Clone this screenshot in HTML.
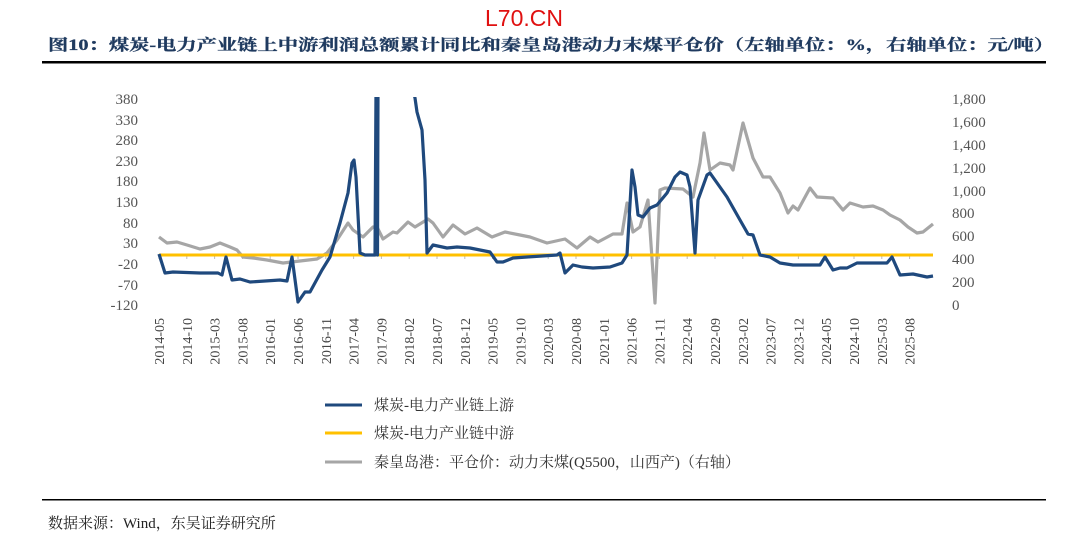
<!DOCTYPE html>
<html><head><meta charset="utf-8"><style>
body{margin:0;background:#fff;width:1077px;height:546px;overflow:hidden;font-family:"Liberation Serif","Noto Serif CJK SC",serif;}
</style></head><body>
<svg width="1077" height="546" xmlns="http://www.w3.org/2000/svg">
<defs><clipPath id="c"><rect x="140" y="97" width="820" height="215"/></clipPath></defs>
<text x="524" y="26" text-anchor="middle" font-family="Liberation Sans, sans-serif" font-size="23" fill="#e01010">L70.CN</text>
<text x="48" y="50" font-size="15.5" font-weight="bold" fill="#1f3a5f" stroke="#1f3a5f" stroke-width="0.3" font-family="Liberation Serif, Noto Serif CJK SC, serif" textLength="1006" lengthAdjust="spacingAndGlyphs">图10：煤炭-电力产业链上中游利润总额累计同比和秦皇岛港动力末煤平仓价（左轴单位：%，右轴单位：元/吨）</text>
<rect x="42" y="61" width="1004" height="2.5" fill="#000"/>
<g font-size="15" fill="#555" text-anchor="end">
<text x="138" y="104">380</text><text x="138" y="125">330</text><text x="138" y="145">280</text><text x="138" y="166">230</text><text x="138" y="186">180</text><text x="138" y="207">130</text><text x="138" y="228">80</text><text x="138" y="248">30</text><text x="138" y="269">-20</text><text x="138" y="290">-70</text><text x="138" y="310">-120</text>
</g>
<g font-size="15" fill="#555">
<text x="952" y="104">1,800</text><text x="952" y="127">1,600</text><text x="952" y="150">1,400</text><text x="952" y="173">1,200</text><text x="952" y="196">1,000</text><text x="952" y="218">800</text><text x="952" y="241">600</text><text x="952" y="264">400</text><text x="952" y="287">200</text><text x="952" y="310">0</text>
</g>
<path stroke="#bbb" fill="none" d="M159,255v4M186.8,255v4M214.6,255v4M242.4,255v4M270.2,255v4M298,255v4M325.8,255v4M353.6,255v4M381.4,255v4M409.2,255v4M437,255v4M464.8,255v4M492.6,255v4M520.4,255v4M548.2,255v4M576,255v4M603.8,255v4M631.6,255v4M659.4,255v4M687.2,255v4M715,255v4M742.8,255v4M770.6,255v4M798.4,255v4M826.2,255v4M854,255v4M881.8,255v4M909.6,255v4"/>
<g font-size="14" fill="#444" text-anchor="end">
<text transform="translate(164,318) rotate(-90)">2014-05</text>
<text transform="translate(191.8,318) rotate(-90)">2014-10</text>
<text transform="translate(219.6,318) rotate(-90)">2015-03</text>
<text transform="translate(247.4,318) rotate(-90)">2015-08</text>
<text transform="translate(275.2,318) rotate(-90)">2016-01</text>
<text transform="translate(303,318) rotate(-90)">2016-06</text>
<text transform="translate(330.8,318) rotate(-90)">2016-11</text>
<text transform="translate(358.6,318) rotate(-90)">2017-04</text>
<text transform="translate(386.4,318) rotate(-90)">2017-09</text>
<text transform="translate(414.2,318) rotate(-90)">2018-02</text>
<text transform="translate(442,318) rotate(-90)">2018-07</text>
<text transform="translate(469.8,318) rotate(-90)">2018-12</text>
<text transform="translate(497.6,318) rotate(-90)">2019-05</text>
<text transform="translate(525.4,318) rotate(-90)">2019-10</text>
<text transform="translate(553.2,318) rotate(-90)">2020-03</text>
<text transform="translate(581,318) rotate(-90)">2020-08</text>
<text transform="translate(608.8,318) rotate(-90)">2021-01</text>
<text transform="translate(636.6,318) rotate(-90)">2021-06</text>
<text transform="translate(664.4,318) rotate(-90)">2021-11</text>
<text transform="translate(692.2,318) rotate(-90)">2022-04</text>
<text transform="translate(720,318) rotate(-90)">2022-09</text>
<text transform="translate(747.8,318) rotate(-90)">2023-02</text>
<text transform="translate(775.6,318) rotate(-90)">2023-07</text>
<text transform="translate(803.4,318) rotate(-90)">2023-12</text>
<text transform="translate(831.2,318) rotate(-90)">2024-05</text>
<text transform="translate(859,318) rotate(-90)">2024-10</text>
<text transform="translate(886.8,318) rotate(-90)">2025-03</text>
<text transform="translate(914.6,318) rotate(-90)">2025-08</text>
</g>
<g clip-path="url(#c)" fill="none" stroke-linejoin="round" stroke-width="3.2">
<polyline stroke="#a6a6a6" points="159,237 167,243 177,242 187,245 200,249 210,247 220,243 230,247 237,250 243,257 253,258 267,260 283,263 300,261 317,259 327,253 337,240 348,223 353,230 363,237 373,227 377,227 383,239 393,232 397,233 408,222 415,227 428,219 433,223 443,237 453,225 465,234 477,228 492,237 505,232 520,235 530,237 547,243 565,239 577,248 590,237 598,242 613,234 622,234 627,203 633,232 640,227 648,200 655,303 660,190 665,188 683,189 693,197 700,163 704,133 710,170 720,163 730,165 733,170 743,123 753,158 763,177 770,177 780,193 788,213 793,206 798,210 810,188 817,197 833,198 843,210 850,203 863,207 873,206 883,210 890,215 900,220 908,227 917,233 923,232 933,224"/>
<line x1="159" y1="255" x2="933" y2="255" stroke="#ffc000" stroke-width="3"/>
<polyline stroke="#1f497d" points="159,254 165,273 173,272 200,273 218,273 222,275 226,257 232,280 240,279 250,282 280,280 287,281 292,257 298,302 305,292 310,292 322,270 330,257 340,223 348,193 352,163 354,160 356,177 360,253 365,255 375,255 376,90 377,90 377.5,255 378,90 413,90 415,98 417,112 422,130 425,180 427,253 433,245 447,248 457,247 470,248 490,252 497,262 503,262 513,258 527,257 557,255 560,253 565,273 573,265 582,267 593,268 610,267 622,263 627,255 632,170 635,187 638,215 643,217 650,208 657,205 667,193 675,177 680,172 687,175 690,187 695,253 698,200 707,175 710,173 727,197 740,220 748,234 753,235 760,255 770,257 780,263 793,265 820,265 825,257 833,270 840,268 847,268 857,263 873,263 887,263 892,257 900,275 913,274 927,277 933,276"/>
</g>
<line x1="325" y1="405" x2="362" y2="405" stroke="#1f497d" stroke-width="3"/>
<line x1="325" y1="433" x2="362" y2="433" stroke="#ffc000" stroke-width="3"/>
<line x1="325" y1="462" x2="362" y2="462" stroke="#a6a6a6" stroke-width="3"/>
<g font-size="15" fill="#333">
<text x="374" y="410">煤炭-电力产业链上游</text>
<text x="374" y="438">煤炭-电力产业链中游</text>
<text x="374" y="467">秦皇岛港：平仓价：动力末煤(Q5500，山西产)（右轴）</text>
</g>
<rect x="42" y="499" width="1004" height="1.5" fill="#000"/>
<text x="48" y="528" font-size="15" fill="#222">数据来源：Wind，东吴证券研究所</text>
</svg>
</body></html>
